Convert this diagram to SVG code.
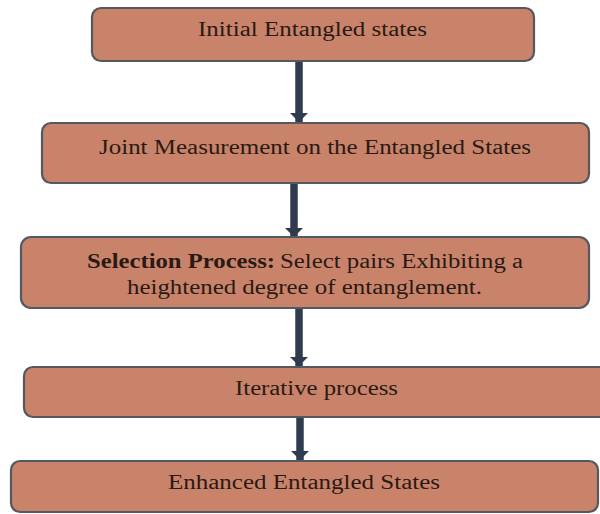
<svg xmlns="http://www.w3.org/2000/svg" width="600" height="514" viewBox="0 0 600 514">
<defs>
<style>
.box{fill:#C9836A;stroke:#545860;stroke-width:2.2}
.t{font-family:"Liberation Serif","Times New Roman",serif;font-size:20px;fill:#2a1a14}
.b{font-weight:bold}
.arr{stroke:#2F3C4F;stroke-width:7.5;fill:none}
</style>
<marker id="ah" viewBox="0 0 5 10" refX="5" refY="5" markerWidth="1.2" markerHeight="2.4" markerUnits="strokeWidth" orient="auto">
<path d="M0,0 L5,5 L0,10 z" fill="#2F3C4F"/>
</marker>
</defs>
<rect width="600" height="514" fill="#ffffff"/>
<g id="connectors">
<line class="arr" x1="299" y1="61" x2="299" y2="122" marker-end="url(#ah)"/>
<line class="arr" x1="294" y1="183" x2="294" y2="237" marker-end="url(#ah)"/>
<line class="arr" x1="299" y1="308" x2="299" y2="366" marker-end="url(#ah)"/>
<line class="arr" x1="300" y1="417" x2="300" y2="460" marker-end="url(#ah)"/>
</g>
<g id="node1">
<rect class="box" x="92" y="8" width="442" height="53" rx="9"/>
<text class="t" x="198" y="36" textLength="229" lengthAdjust="spacingAndGlyphs">Initial Entangled states</text>
</g>
<g id="node2">
<rect class="box" x="42" y="123" width="547" height="60" rx="9"/>
<text class="t" x="99" y="154" textLength="432" lengthAdjust="spacingAndGlyphs">Joint Measurement on the Entangled States</text>
</g>
<g id="node3">
<rect class="box" x="21" y="237" width="568" height="71" rx="10"/>
<text class="t b" x="87" y="268" textLength="188" lengthAdjust="spacingAndGlyphs">Selection Process:</text>
<text class="t" x="280" y="268" textLength="243" lengthAdjust="spacingAndGlyphs">Select pairs Exhibiting a</text>
<text class="t" x="127" y="294" textLength="355" lengthAdjust="spacingAndGlyphs">heightened degree of entanglement.</text>
</g>
<g id="node4">
<rect class="box" x="24" y="367" width="600" height="50" rx="9"/>
<text class="t" x="235" y="395" textLength="163" lengthAdjust="spacingAndGlyphs">Iterative process</text>
</g>
<g id="node5">
<rect class="box" x="11" y="461" width="587" height="51" rx="9"/>
<text class="t" x="168" y="489" textLength="272" lengthAdjust="spacingAndGlyphs">Enhanced Entangled States</text>
</g>
</svg>
